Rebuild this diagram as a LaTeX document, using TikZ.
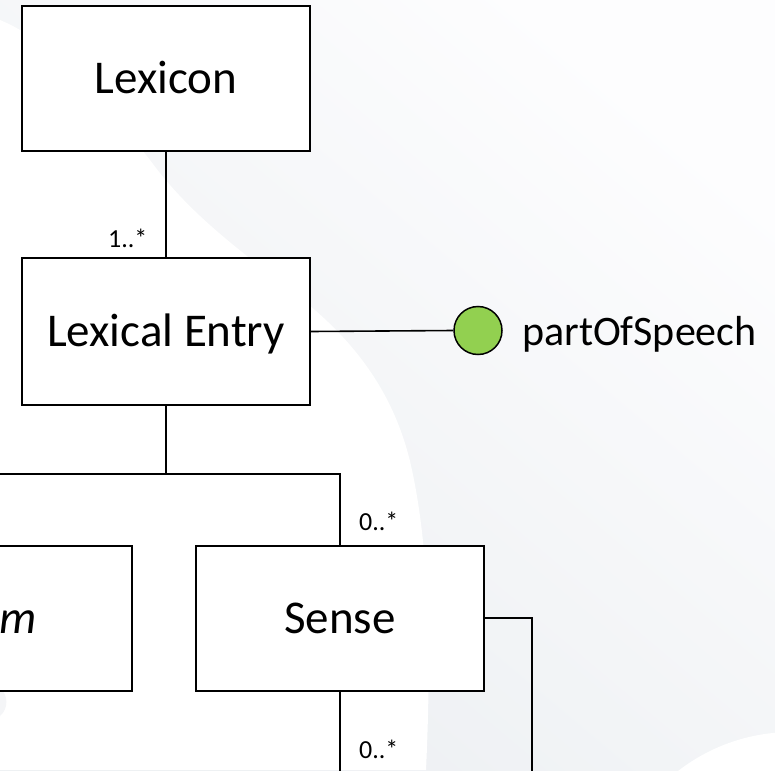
\documentclass[tikz,border=0pt]{standalone}
\usepackage{fontspec}
\setmainfont{Carlito}
\usetikzlibrary{calc}
\definecolor{bgdark}{HTML}{ECEFF2}
\definecolor{bglight}{HTML}{FDFDFE}
\definecolor{attrgreen}{HTML}{92D050}
\tikzset{
  classbox/.style={draw=black, line width=2pt, fill=white, minimum width=288pt,
    minimum height=145pt, font=\fontsize{47}{50}\selectfont, text height=30pt, text depth=0pt,
    inner sep=0pt},
  link/.style={draw=black, line width=1.6pt},
  mult/.style={font=\fontsize{26}{28}\selectfont, inner sep=0pt, anchor=base west},
  attrdot/.style={circle, draw=black, line width=1.5pt, fill=attrgreen, minimum size=48pt, inner sep=0pt},
  attrlabel/.style={font=\fontsize{42}{44}\selectfont, inner sep=0pt, anchor=base west}
}
\begin{document}
\begin{tikzpicture}[x=1pt, y=-1pt]
\useasboundingbox (0,0) rectangle (775,770);
\clip (0,0) rectangle (775,770);

% soft backdrop
\shade[shading=axis, top color=bglight, bottom color=bgdark, shading angle=-40]
  (0,0) rectangle (775,770);
\fill[white] (0,20) .. controls (60,45) and (110,110) .. (150,160)
  .. controls (190,215) and (240,250) .. (290,290)
  .. controls (350,335) and (395,390) .. (412,470)
  .. controls (428,545) and (432,640) .. (426,770)
  -- (0,770) -- cycle;
\fill[white] (792,918) circle[radius=186];
\fill[bgdark!60] (0,688) .. controls (8,695) and (9,708) .. (0,716) -- cycle;

% classes
\node[classbox] (lexicon) at (166,78.5) {Lexicon};
\node[classbox, minimum height=147pt] (entry) at (166,331.5) {Lexical Entry};
\node[classbox, font=\fontsize{47}{50}\selectfont\itshape] (form) at (-12,618) {Form};
\node[classbox] (sense) at (340,618) {Sense};

% attribute
\node[attrdot] (pos) at (478,330.5) {};
\node[attrlabel] (poslabel) at (522,345) {partOfSpeech};

% junction and free ends
\coordinate (split) at (166,474);
\coordinate (senseright) at (532,618);
\coordinate (senserightend) at (532,780);
\coordinate (sensedown) at (340,780);

% connectors
\draw[link] (lexicon.south) -- (entry.north);
\draw[link] (entry.east) -- (pos.west);
\draw[link] (entry.south) -- (split);
\draw[link] (form.north) |- (split) -| (sense.north);
\draw[link] (sense.east) -- (senseright) -- (senserightend);
\draw[link] (sense.south) -- (sensedown);

% multiplicities
\node[mult] (m1) at (108,247) {1..*};
\node[mult] (m2) at (359,530) {0..*};
\node[mult] (m3) at (359,758) {0..*};
\end{tikzpicture}
\end{document}
